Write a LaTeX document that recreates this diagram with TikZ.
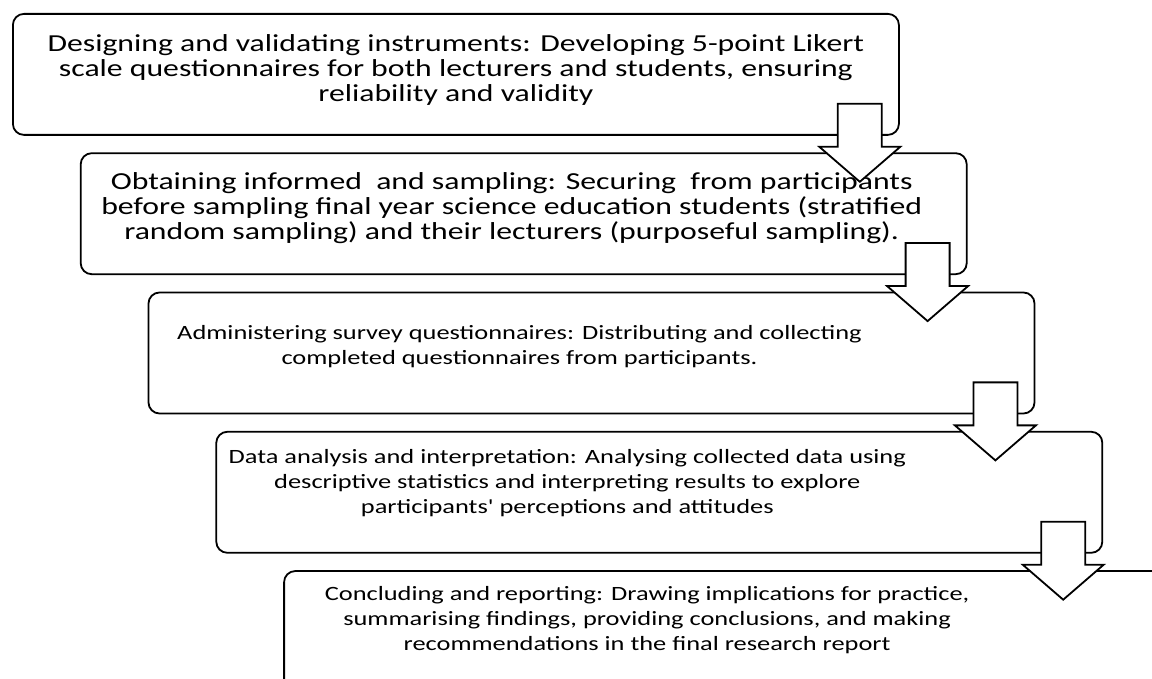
\documentclass[tikz,border=0pt]{standalone}
\usepackage{fontspec}
\setmainfont{Carlito}[Ligatures=TeXOff,FakeStretch=1.3]
\usetikzlibrary{calc}
\usetikzlibrary{positioning}

\begin{document}
\begin{tikzpicture}[x=1pt, y=1pt, node distance=16.5pt, line width=1.8pt]
      \tikzstyle{box}=[rectangle,rounded corners=11pt,draw,minimum width=886pt,minimum height=121pt,inner sep=0pt]
      \tikzstyle{txt}=[align=center,inner sep=0pt,font=\fontsize{20.3}{25}\selectfont]
      \tikzstyle{bigtxt}=[txt,font=\fontsize{24.4}{25}\selectfont]
      \tikzstyle{flowarrow}=[draw,fill=white,line join=miter]
      \useasboundingbox (0,0) rectangle (1152,679);
      \clip (0,0) rectangle (1152,679);
      \node[box,anchor=north west] (box1) at (12,666) {};
      \node[box,below right=16.5pt and -820pt of box1] (box2) {};
      \node[box,below right=16.5pt and -820pt of box2] (box3) {};
      \node[box,below right=16.5pt and -820pt of box3] (box4) {};
      \node[box,below right=16.5pt and -820pt of box4] (box5) {};
      \node[bigtxt] (t1) at ([yshift=-57pt]box1.north) {Designing and validating instruments: Developing 5-point Likert\\scale questionnaires for both lecturers and students, ensuring\\reliability and validity};
      \node[bigtxt] (t2) at ([xshift=-12pt,yshift=-56pt]box2.north) {Obtaining informed\ \ and sampling: Securing\ \ from participants\\before sampling final year science education students (stratified\\random sampling) and their lecturers (purposeful sampling).};
      \node[txt] (t3) at ([xshift=-72pt,yshift=-55pt]box3.north) {Administering survey questionnaires: Distributing and collecting\\completed questionnaires from participants.};
      \node[txt] (t4) at ([xshift=-92pt,yshift=-52pt]box4.north) {Data analysis and interpretation: Analysing collected data using\\descriptive statistics and interpreting results to explore\\participants' perceptions and attitudes};
      \node[txt] (t5) at ([xshift=-80pt,yshift=-50pt]box5.north) {Concluding and reporting: Drawing implications for practice,\\summarising findings, providing conclusions, and making\\recommendations in the final research report};
      % block arrows between the steps
      \foreach \a in {1,...,4} {
        \draw[flowarrow] ($(box\a.south east)+(-62,32)$) -- ++(44,0) -- ++(0,-43) -- ++(18.5,0)
          -- ++(-40.5,-35) -- ++(-40.5,35) -- ++(18.5,0) -- cycle;
      }
    \end{tikzpicture}
\end{document}
